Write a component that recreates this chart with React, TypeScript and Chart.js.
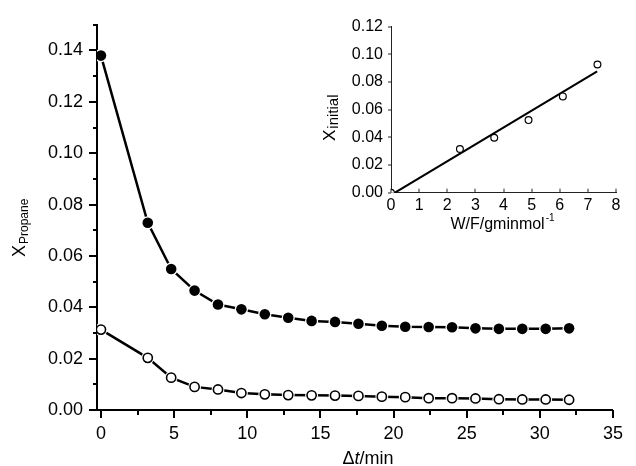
import React, { useEffect, useRef } from "react";
import { Chart, registerables } from "chart.js";

Chart.register(...registerables);

const FONT = "'Liberation Sans', Arial, Helvetica, sans-serif";

// ---- main chart data ----
const times = [0, 3.2, 4.8, 6.4, 8.0, 9.6, 11.2, 12.8, 14.4, 16.0, 17.6, 19.2, 20.8, 22.4, 24.0, 25.6, 27.2, 28.8, 30.4, 32.0];
const filledConv = [0.138, 0.0729, 0.0549, 0.0465, 0.0411, 0.0392, 0.0373, 0.0359, 0.0347, 0.0343, 0.0336, 0.0328, 0.0324, 0.0323, 0.0322, 0.0318, 0.0316, 0.0316, 0.0316, 0.0318];
const openConv = [0.0313, 0.0203, 0.0126, 0.009, 0.008, 0.0066, 0.0061, 0.0058, 0.0057, 0.0056, 0.0055, 0.0052, 0.005, 0.0046, 0.0046, 0.0045, 0.0042, 0.0041, 0.0041, 0.004];
const xTicks = [0, 5, 10, 15, 20, 25, 30, 35];
const xMinor = [2.5, 7.5, 12.5, 17.5, 22.5, 27.5, 32.5];
const yTicks = [0, 0.02, 0.04, 0.06, 0.08, 0.1, 0.12, 0.14];
const yMinor = [0.01, 0.03, 0.05, 0.07, 0.09, 0.11, 0.13, 0.15];

// ---- inset data ----
const wf = [0, 2.45, 3.67, 4.89, 6.11, 7.34];
const xInitial = [0, 0.0316, 0.0397, 0.0525, 0.0696, 0.0927];
const fitWF = [0.14, 7.33];
const fitXInitial = [0, 0.0877];
const insetXTicks = [0, 1, 2, 3, 4, 5, 6, 7, 8];
const insetYTicks = [0, 0.02, 0.04, 0.06, 0.08, 0.1, 0.12];

const pts = (xs: number[], ys: number[]) => xs.map((x, i) => ({ x, y: ys[i] }));

function tickPlugin(opts: any) {
  return {
    id: "manualTicks",
    afterDraw(chart: any) {
      const ctx = chart.ctx;
      const { left, bottom } = chart.chartArea;
      const xs = chart.scales.x;
      const ys = chart.scales.y;
      ctx.save();
      ctx.strokeStyle = opts.color;
      ctx.lineWidth = opts.width;
      const dx = (vals: number[], len: number) =>
        vals.forEach((v) => {
          const p = Math.round(xs.getPixelForValue(v));
          ctx.beginPath();
          ctx.moveTo(p, bottom);
          ctx.lineTo(p, bottom + len);
          ctx.stroke();
        });
      const dy = (vals: number[], len: number) =>
        vals.forEach((v) => {
          const p = Math.round(ys.getPixelForValue(v));
          ctx.beginPath();
          ctx.moveTo(left, p);
          ctx.lineTo(left - len, p);
          ctx.stroke();
        });
      dx(opts.xMajor, opts.xMajorLen);
      if (opts.xMinor) dx(opts.xMinor, opts.xMinorLen);
      dy(opts.yMajor, opts.yMajorLen);
      if (opts.yMinor) dy(opts.yMinor, opts.yMinorLen);
      ctx.restore();
      if (opts.titles) opts.titles(ctx, chart);
    },
  };
}

function mainTitles(ctx: CanvasRenderingContext2D) {
  ctx.save();
  ctx.fillStyle = "#000";
  ctx.textBaseline = "alphabetic";
  ctx.textAlign = "left";
  // y title: X_Propane
  ctx.translate(25, 257);
  ctx.rotate(-Math.PI / 2);
  ctx.font = `18px ${FONT}`;
  ctx.fillText("X", 0, 0);
  const w = ctx.measureText("X").width;
  ctx.font = `12px ${FONT}`;
  ctx.fillText("Propane", w + 1, 3);
  ctx.restore();

  // x title: Δt/min
  ctx.save();
  ctx.fillStyle = "#000";
  ctx.textBaseline = "alphabetic";
  ctx.textAlign = "left";
  const parts = [
    { t: "\u0394", f: `18px ${FONT}` },
    { t: "t", f: `italic 18px ${FONT}` },
    { t: "/min", f: `18px ${FONT}` },
  ];
  let total = 0;
  parts.forEach((p) => {
    ctx.font = p.f;
    total += ctx.measureText(p.t).width;
  });
  let x = 368 - total / 2;
  parts.forEach((p) => {
    ctx.font = p.f;
    ctx.fillText(p.t, x, 464);
    x += ctx.measureText(p.t).width;
  });
  ctx.restore();
}

function insetTitles(ctx: CanvasRenderingContext2D) {
  // canvas offset: left 300, top 0
  ctx.save();
  ctx.fillStyle = "#000";
  ctx.textBaseline = "alphabetic";
  ctx.textAlign = "left";
  ctx.translate(335 - 300, 141);
  ctx.rotate(-Math.PI / 2);
  ctx.font = `17px ${FONT}`;
  ctx.fillText("X", 0, 0);
  const w = ctx.measureText("X").width;
  ctx.font = `15px ${FONT}`;
  ctx.fillText("initial", w + 1, 3);
  ctx.restore();

  ctx.save();
  ctx.fillStyle = "#000";
  ctx.textBaseline = "alphabetic";
  ctx.textAlign = "left";
  ctx.font = `16px ${FONT}`;
  const main = "W/F/gminmol";
  const mw = ctx.measureText(main).width;
  ctx.font = `10px ${FONT}`;
  const sup = "-1";
  const sw = ctx.measureText(sup).width;
  let x = 502 - 300 - (mw + sw) / 2;
  ctx.font = `16px ${FONT}`;
  ctx.fillText(main, x, 229);
  ctx.font = `10px ${FONT}`;
  ctx.fillText(sup, x + mw + 1, 221);
  ctx.restore();
}

export default function App() {
  const mainRef = useRef<HTMLCanvasElement>(null);
  const insetRef = useRef<HTMLCanvasElement>(null);

  useEffect(() => {
    Chart.defaults.font.family = FONT;
    Chart.defaults.color = "#000";

    const main = new Chart(mainRef.current!, {
      type: "line",
      data: {
        datasets: [
          { data: pts(times, filledConv), showLine: false, pointRadius: 5.3, pointHoverRadius: 5.3, pointBackgroundColor: "#000", pointBorderWidth: 0, borderColor: "#000" },
          { data: pts(times, openConv), showLine: false, pointRadius: 4.6, pointHoverRadius: 4.6, pointBackgroundColor: "#fff", pointBorderColor: "#000", pointBorderWidth: 1.6 },
          { data: pts(times, filledConv), showLine: false, pointRadius: 6.6, pointBackgroundColor: "#fff", pointBorderWidth: 0 },
          { data: pts(times, openConv), showLine: false, pointRadius: 6.4, pointBackgroundColor: "#fff", pointBorderWidth: 0 },
          { data: pts(times, filledConv), borderColor: "#000", borderWidth: 2.5, pointRadius: 0, tension: 0 },
          { data: pts(times, openConv), borderColor: "#000", borderWidth: 2.5, pointRadius: 0, tension: 0 },
        ] as any,
      },
      options: {
        animation: false,
        responsive: false,
        events: [],
        layout: { padding: { left: 0, top: 17, right: 10, bottom: 0 } },
        plugins: { legend: { display: false }, tooltip: { enabled: false } },
        scales: {
          x: {
            type: "linear",
            min: -0.27,
            max: 35,
            afterBuildTicks: (s: any) => { s.ticks = xTicks.map((v) => ({ value: v })); },
            afterFit: (s: any) => { s.height = 56; },
            ticks: { font: { size: 18 }, color: "#000", padding: 13, maxRotation: 0, autoSkip: false },
            grid: { display: false, drawTicks: false, tickLength: 0 },
            border: { display: true, color: "#000", width: 2 },
          },
          y: {
            type: "linear",
            min: 0,
            max: 0.15,
            afterBuildTicks: (s: any) => { s.ticks = yTicks.map((v) => ({ value: v })); },
            afterFit: (s: any) => { s.width = 97; },
            ticks: { font: { size: 18 }, color: "#000", padding: 14, callback: (v: any) => Number(v).toFixed(2) },
            grid: { display: false, drawTicks: false, tickLength: 0 },
            border: { display: true, color: "#000", width: 2 },
          },
        },
      },
      plugins: [
        tickPlugin({ color: "#000", width: 2, xMajor: xTicks, xMajorLen: 8, xMinor: xMinor, xMinorLen: 5, yMajor: yTicks, yMajorLen: 8, yMinor: yMinor, yMinorLen: 4, titles: mainTitles }),
      ],
    } as any);

    const inset = new Chart(insetRef.current!, {
      type: "line",
      data: {
        datasets: [
          { data: pts(wf, xInitial), showLine: false, pointRadius: 3.4, pointHoverRadius: 3.4, pointBackgroundColor: "#fff", pointBorderColor: "#000", pointBorderWidth: 1.2 },
          { data: pts(fitWF, fitXInitial), borderColor: "#000", borderWidth: 2, pointRadius: 0 },
        ] as any,
      },
      options: {
        animation: false,
        responsive: false,
        events: [],
        layout: { padding: { left: 0, top: 26.7, right: 20, bottom: 0 } },
        plugins: { legend: { display: false }, tooltip: { enabled: false } },
        scales: {
          x: {
            type: "linear",
            min: 0,
            max: 8,
            afterBuildTicks: (s: any) => { s.ticks = insetXTicks.map((v) => ({ value: v })); },
            afterFit: (s: any) => { s.height = 47.3; },
            ticks: { font: { size: 16 }, color: "#000", padding: 3, maxRotation: 0, autoSkip: false },
            grid: { display: false, drawTicks: false, tickLength: 0 },
            border: { display: true, color: "#222", width: 1 },
          },
          y: {
            type: "linear",
            min: 0,
            max: 0.12,
            afterBuildTicks: (s: any) => { s.ticks = insetYTicks.map((v) => ({ value: v })); },
            afterFit: (s: any) => { s.width = 91; },
            ticks: { font: { size: 16 }, color: "#000", padding: 8, callback: (v: any) => Number(v).toFixed(2) },
            grid: { display: false, drawTicks: false, tickLength: 0 },
            border: { display: true, color: "#222", width: 1 },
          },
        },
      },
      plugins: [
        tickPlugin({ color: "#222", width: 1, xMajor: insetXTicks, xMajorLen: -4, yMajor: insetYTicks, yMajorLen: 3, titles: insetTitles }),
      ],
    } as any);

    return () => {
      main.destroy();
      inset.destroy();
    };
  }, []);

  return (
    <div style={{ position: "fixed", left: 0, top: 0, width: 636, height: 466, background: "#fff" }}>
      <canvas ref={mainRef} width={636} height={466} style={{ position: "absolute", left: 0, top: 0, width: 636, height: 466 }} />
      <canvas ref={insetRef} width={336} height={240} style={{ position: "absolute", left: 300, top: 0, width: 336, height: 240 }} />
    </div>
  );
}
